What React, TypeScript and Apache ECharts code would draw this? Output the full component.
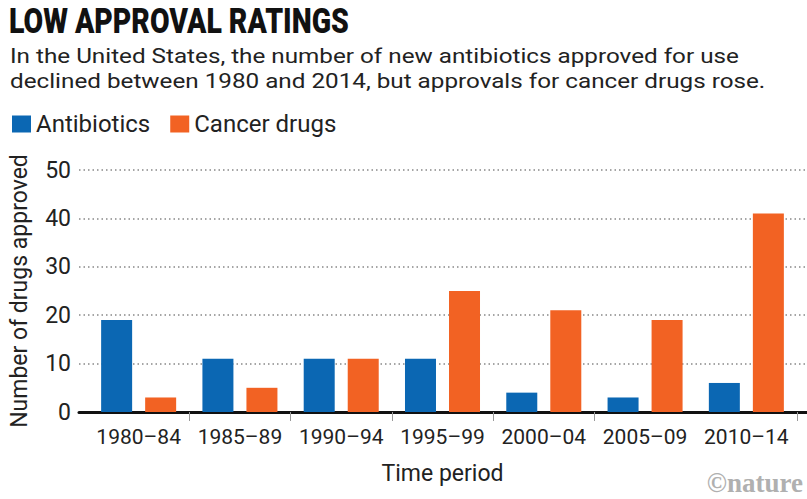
import React, { useEffect, useRef } from "react";
import * as echarts from "echarts";

const categories = ["1980–84", "1985–89", "1990–94", "1995–99", "2000–04", "2005–09", "2010–14"];
const antibiotics = [19, 11, 11, 11, 4, 3, 6];
const cancerDrugs = [3, 5, 11, 25, 21, 19, 41];
const seriesNames = ["Antibiotics", "Cancer drugs"];
const yMin = 0;
const yMax = 50;
const yStep = 10;
const titleText = "LOW APPROVAL RATINGS";
const subtitleLines = [
  "In the United States, the number of new antibiotics approved for use",
  "declined between 1980 and 2014, but approvals for cancer drugs rose.",
];
const yAxisName = "Number of drugs approved";
const xAxisName = "Time period";
const credit = "©nature";

const BLUE = "#0b67b3";
const ORANGE = "#f26223";
const TEXT = "#222";
const FONT = "Roboto";

export default function App() {
  const ref = useRef<HTMLDivElement>(null);
  useEffect(() => {
    if (!ref.current) return;
    const chart = echarts.init(ref.current, undefined, { renderer: "svg" });
    chart.setOption({
      animation: false,
      color: [BLUE, ORANGE],
      textStyle: { fontFamily: FONT },
      legend: {
        data: seriesNames,
        left: 7,
        top: 107,
        icon: "rect",
        itemWidth: 19,
        itemHeight: 17,
        itemGap: 20,
        textStyle: { fontSize: 24, color: TEXT, fontFamily: FONT },
      },
      grid: [
        { left: 78, right: 0, top: 170, bottom: 87 },
        { left: 88, right: 10, top: 170, bottom: 87 },
      ],
      xAxis: [
        {
          gridIndex: 0,
          type: "category",
          data: [""],
          axisLine: { lineStyle: { color: "#111", width: 3 } },
          axisTick: { show: false },
          axisLabel: { show: false },
        },
        {
          gridIndex: 1,
          type: "category",
          data: categories,
          axisLine: { show: false },
          axisTick: {
            show: true,
            length: 9,
            interval: (i: number) => i >= 1 && i <= 5,
            lineStyle: { color: "#999", width: 1 },
          },
          axisLabel: { fontSize: 21, color: TEXT, margin: 14, interval: 0, fontFamily: FONT },
          name: xAxisName,
          nameLocation: "middle",
          nameGap: 50,
          nameTextStyle: { fontSize: 23, color: TEXT, fontFamily: FONT },
        },
      ],
      yAxis: [
        {
          gridIndex: 0,
          type: "value",
          min: yMin,
          max: yMax,
          interval: yStep,
          axisLine: { show: false },
          axisTick: { show: false },
          axisLabel: { fontSize: 23, color: TEXT, margin: 8, fontFamily: FONT },
          splitLine: { lineStyle: { color: "#888", width: 1.5, type: [1.5, 3] } },
          name: yAxisName,
          nameLocation: "middle",
          nameRotate: 90,
          nameGap: 48,
          nameTextStyle: { fontSize: 23, color: TEXT, fontFamily: FONT },
        },
        {
          gridIndex: 1,
          type: "value",
          min: yMin,
          max: yMax,
          interval: yStep,
          show: false,
        },
      ],
      series: [
        {
          name: seriesNames[0],
          type: "bar",
          xAxisIndex: 1,
          yAxisIndex: 1,
          data: antibiotics,
          barWidth: 31,
          barGap: "42%",
          itemStyle: { color: BLUE },
        },
        {
          name: seriesNames[1],
          type: "bar",
          xAxisIndex: 1,
          yAxisIndex: 1,
          data: cancerDrugs,
          barWidth: 31,
          barGap: "42%",
          itemStyle: { color: ORANGE },
        },
      ],
      graphic: [
        {
          type: "text",
          x: 9,
          y: 3,
          scaleX: 0.79,
          style: { text: titleText, font: "900 36px Roboto", fill: "#111" },
        },
        {
          type: "text",
          x: 10,
          y: 46,
          scaleX: 1.155,
          style: { text: subtitleLines[0], fontSize: 21, lineHeight: 21, fontFamily: FONT, fill: TEXT },
        },
        {
          type: "text",
          x: 10,
          y: 71,
          scaleX: 1.155,
          style: { text: subtitleLines[1], fontSize: 21, lineHeight: 21, fontFamily: FONT, fill: TEXT },
        },
        {
          type: "text",
          right: 4,
          bottom: 3,
          style: { text: credit, font: 'bold 27px "Liberation Serif"', fill: "#b0b0b0" },
        },
      ],
    });
    return () => chart.dispose();
  }, []);
  return <div ref={ref} style={{ position: "absolute", left: 0, top: 0, width: 807, height: 499 }} />;
}
